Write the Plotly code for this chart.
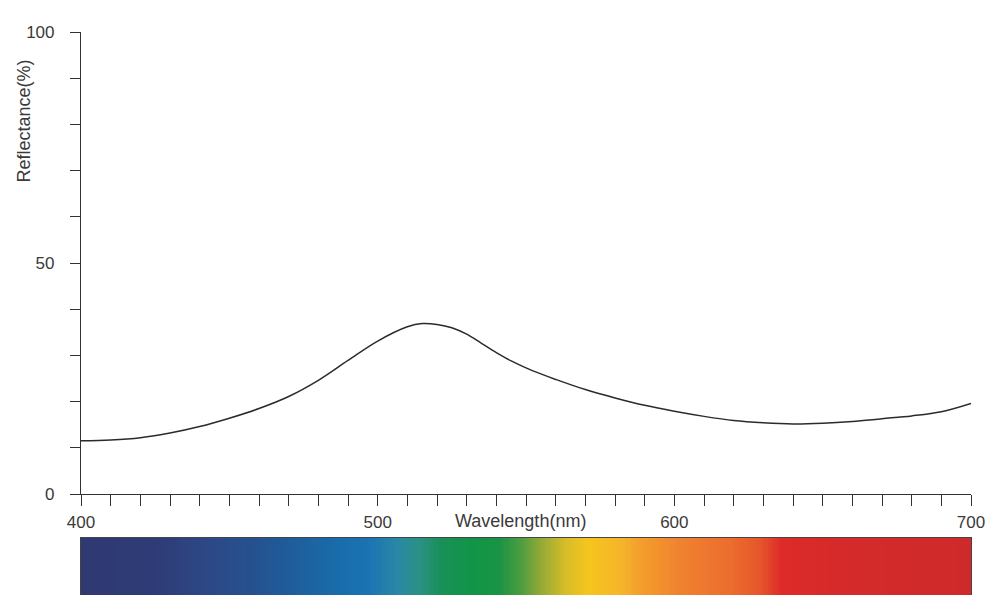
import numpy as np
import plotly.graph_objects as go

# ---- data ----
wavelength_nm = [400, 410, 420, 430, 440, 450, 460, 470, 480, 490, 500, 510, 515, 520,
                 525, 530, 535, 540, 545, 550, 555, 560, 570, 580, 590, 600, 610, 620,
                 630, 640, 650, 660, 670, 680, 690, 700]
reflectance_pct = [11.5, 11.7, 12.2, 13.2, 14.6, 16.4, 18.5, 21.1, 24.6, 28.9, 33.1, 36.2, 36.9, 36.7,
                   36.0, 34.6, 32.6, 30.6, 28.8, 27.3, 26.0, 24.8, 22.6, 20.8, 19.2, 17.9, 16.8, 15.9,
                   15.4, 15.15, 15.3, 15.7, 16.3, 16.9, 17.8, 19.6]

x_tick_values = list(range(400, 701, 10))
x_tick_labels = {400: "400", 500: "500", 600: "600", 700: "700"}
y_tick_values = list(range(0, 101, 10))
y_tick_labels = {0: "0", 50: "50", 100: "100"}

spectrum_stop_nm = [400, 425, 440, 457, 470, 484, 497, 507, 514, 521, 531, 541, 548,
                    556, 563, 571, 582, 588, 602, 619, 629, 636, 659, 700]
spectrum_stop_color = ["#2f3a73", "#2f3b76", "#2d4683", "#27508f", "#1f5c9a", "#1a6aa8",
                       "#1b73b3", "#2b88a4", "#2a9184", "#1a9059", "#119447", "#1a9444",
                       "#4c9c40", "#9aab36", "#d4bd28", "#f5c51e", "#f5b52a", "#f4a02c",
                       "#ef8230", "#ec6d2e", "#e5552b", "#dd2b28", "#d42a2a", "#cf2a2b"]

x_title = "Wavelength(nm)"
y_title = "Reflectance(%)"

# ---- figure ----
W, H = 990, 595
mt, mb, ml, mr = 32, 0, 81, 19
ph = H - mt - mb
pw = W - ml - mr

def py(px):  # pixel row -> paper fraction
    return (H - mb - px) / ph

def px_(x):
    return (x - ml) / pw

font_fam = "Liberation Sans, Arial, sans-serif"
txt_col = "#3a3a3a"
line_col = "#333333"

fig = go.Figure()

fig.add_trace(go.Scatter(
    x=wavelength_nm, y=reflectance_pct, mode="lines",
    line=dict(color="#2b2b2b", width=1.5, shape="spline", smoothing=1.0),
    xaxis="x", yaxis="y", showlegend=False, hoverinfo="skip"))

spec_x = np.arange(400, 701, 1)
lo, hi = spectrum_stop_nm[0], spectrum_stop_nm[-1]
cscale = [[(w - lo) / (hi - lo), c] for w, c in zip(spectrum_stop_nm, spectrum_stop_color)]
fig.add_trace(go.Heatmap(
    x=spec_x, y=[0], z=[spec_x.tolist()], colorscale=cscale, zmin=lo, zmax=hi,
    showscale=False, xaxis="x2", yaxis="y2", hoverinfo="skip"))

fig.update_layout(
    width=W, height=H, autosize=False,
    margin=dict(l=ml, r=mr, t=mt, b=mb, pad=0, autoexpand=False),
    paper_bgcolor="white", plot_bgcolor="white",
    font=dict(family=font_fam, size=17, color=txt_col),
    xaxis=dict(
        domain=[0, 1], anchor="y", range=[400, 700], automargin=False,
        showline=True, linecolor=line_col, linewidth=1.2,
        showgrid=False, zeroline=False,
        tickmode="array", tickvals=x_tick_values,
        ticktext=[x_tick_labels.get(v, "") for v in x_tick_values],
        ticks="outside", ticklen=11, tickwidth=1.2, tickcolor=line_col,
        ticklabelstandoff=1,
        tickfont=dict(size=17, color=txt_col),
    ),
    yaxis=dict(
        domain=[py(494), 1], anchor="x", range=[0, 100], automargin=False,
        showline=True, linecolor=line_col, linewidth=1.2,
        showgrid=False, zeroline=False,
        tickmode="array", tickvals=y_tick_values,
        ticktext=[y_tick_labels.get(v, "") for v in y_tick_values],
        ticks="outside", ticklen=10, tickwidth=1.2, tickcolor=line_col,
        ticklabelstandoff=12,
        tickfont=dict(size=17, color=txt_col),
    ),
    xaxis2=dict(
        domain=[0, 1], anchor="y2", range=[400, 700], automargin=False,
        showline=True, mirror=True, linecolor="#444444", linewidth=1,
        showgrid=False, zeroline=False, showticklabels=False, ticks="",
    ),
    yaxis2=dict(
        domain=[0, py(538)], anchor="x2", range=[-0.5, 0.5], automargin=False,
        showline=True, mirror=True, linecolor="#444444", linewidth=1,
        showgrid=False, zeroline=False, showticklabels=False, ticks="",
    ),
    annotations=[
        dict(text=x_title, x=548, xref="x", y=py(521), yref="paper",
             xanchor="center", yanchor="middle", showarrow=False,
             font=dict(size=18, color=txt_col)),
        dict(text=y_title, x=px_(23), xref="paper", y=py(121.5), yref="paper",
             xanchor="center", yanchor="middle", showarrow=False, textangle=-90,
             font=dict(size=18, color=txt_col)),
    ],
)

fig.write_html(
    "out.html",
    config={"displayModeBar": False, "responsive": False},
    post_script="document.body.style.margin='0px';document.body.style.overflow='hidden';",
)
